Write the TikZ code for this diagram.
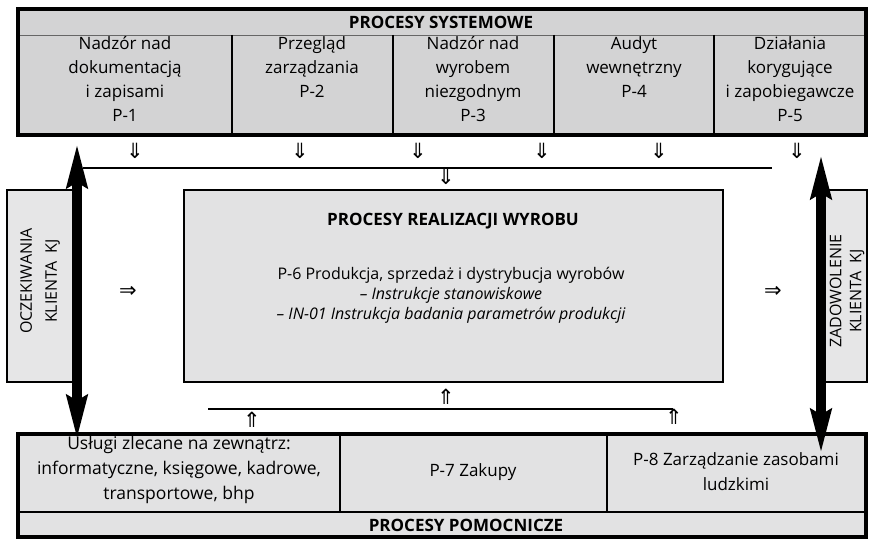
\documentclass[tikz,border=0pt]{standalone}
\usepackage{fontspec}
\setmainfont{Open Sans}
\newfontfamily\symfont{DejaVu Sans}
\usetikzlibrary{arrows.meta}
\definecolor{sysgray}{RGB}{211,211,212}
\definecolor{boxgray}{RGB}{226,226,227}
\definecolor{sidegray}{RGB}{230,230,231}
\begin{document}
\begin{tikzpicture}[x=1pt,y=-1pt,
  frame/.style={draw=black, line width=3.5pt},
  divider/.style={line width=1.3pt},
  bus/.style={line width=1.1pt},
  cell/.style={font=\fontsize{17}{24}\selectfont, align=center, inner sep=0pt},
  head/.style={font=\fontsize{17}{20}\selectfont\bfseries, inner sep=0pt},
  inner/.style={font=\fontsize{16}{20}\selectfont, align=center, inner sep=0pt},
  side/.style={font=\fontsize{16}{25}\selectfont, align=center, inner sep=0pt, rotate=90},
  flow/.style={font=\symfont\fontsize{21}{21}\selectfont, inner sep=0pt},
  bigarrow/.style={line width=10pt, {Stealth[length=44pt,width=19pt,inset=4pt]}-{Stealth[length=44pt,width=19pt,inset=4pt]}}
]
\useasboundingbox (0,0) rectangle (870,540);

% ---- system processes (top band)
\fill[sysgray] (18,9) rectangle (866,135);
\draw[line width=0.6pt, black!60] (18,35) -- (866,35);
\foreach \x in {232,393,554,714} \draw[divider] (\x,35) -- (\x,135);
\draw[frame] (18,9) rectangle (866,135);
\node[head] (sysh) at (441,22) {PROCESY SYSTEMOWE};
\node[cell, anchor=north] (p1) at (125,36) {Nadzór nad\\dokumentacją\\i zapisami\\P-1};
\node[cell, anchor=north] (p2) at (312,36) {Przegląd\\zarządzania\\P-2};
\node[cell, anchor=north] (p3) at (473,36) {Nadzór nad\\wyrobem\\niezgodnym\\P-3};
\node[cell, anchor=north] (p4) at (634,36) {Audyt\\wewnętrzny\\P-4};
\node[cell, anchor=north] (p5) at (790,36) {Działania\\korygujące\\i zapobiegawcze\\P-5};

% ---- downward flows into the collecting line
\foreach \x/\n in {135/d1,300/d2,418/d3,542/d4,659/d5,797/d6}
  \node[flow] (\n) at (\x,151) {⇓};
\coordinate (busL) at (83,168);
\coordinate (busR) at (772,168);
\draw[bus] (busL) -- (busR);
\node[flow] (dmid) at (446,177) {⇓};

% ---- product realisation
\node[draw, line width=2pt, fill=boxgray, minimum width=539pt, minimum height=192pt, inner sep=0pt] (real) at (453.5,286) {};
\node[head] (realh) at (453,221) {PROCESY REALIZACJI WYROBU};
\node[inner] (p6) at (451,295) {P-6 Produkcja, sprzedaż i dystrybucja wyrobów\\\itshape – Instrukcje stanowiskowe\\\itshape – IN-01 Instrukcja badania parametrów produkcji};

% ---- customer side boxes
\fill[sidegray] (7,190) rectangle (77,382);
\draw[line width=1.6pt] (77,190) -- (7,190) -- (7,382) -- (77,382);
\node[side] (oczek) at (40,281) {OCZEKIWANIA\\KLIENTA\ \ KJ};
\fill[sidegray] (821,190) rectangle (867,382);
\draw[line width=1.6pt] (821,190) -- (867,190) -- (867,382) -- (821,382);
\node[side, font=\fontsize{16}{20}\selectfont] (zadow) at (847,291) {ZADOWOLENIE\\KLIENTA\ \ KJ};
\node[flow] (rin) at (128,292) {⇒};
\node[flow] (rout) at (773,292) {⇒};

% ---- supporting processes (bottom band)
\fill[boxgray] (18,434) rectangle (866,537);
\draw[line width=1.1pt] (18,512) -- (866,512);
\foreach \x in {340,607} \draw[divider] (\x,434) -- (\x,512);
\draw[frame] (18,434) rectangle (866,537);
\node[head] (pomh) at (466,525) {PROCESY POMOCNICZE};
\node[cell, font=\fontsize{17.5}{25}\selectfont] (uslugi) at (179,470) {Usługi zlecane na zewnątrz:\\informatyczne, księgowe, kadrowe,\\transportowe, bhp};
\node[cell] (p7) at (473,472) {P-7 Zakupy};
\node[cell, font=\fontsize{17}{25}\selectfont] (p8) at (736,472) {P-8 Zarządzanie zasobami\\ludzkimi};

% ---- upward flows from the supporting processes
\coordinate (lowL) at (208,409);
\coordinate (lowR) at (673,409);
\draw[bus] (lowL) -- (lowR);
\node[flow] (u1) at (252,420) {⇑};
\node[flow] (umid) at (446,397) {⇑};
\node[flow] (u3) at (674,417) {⇑};

% ---- customer feedback arrows
\coordinate (lt) at (77,142);
\coordinate (lb) at (77,441);
\coordinate (rt) at (821,153);
\coordinate (rb) at (821,455);
\draw[bigarrow] (lt) -- (lb);
\draw[bigarrow] (rt) -- (rb);
\end{tikzpicture}
\end{document}
